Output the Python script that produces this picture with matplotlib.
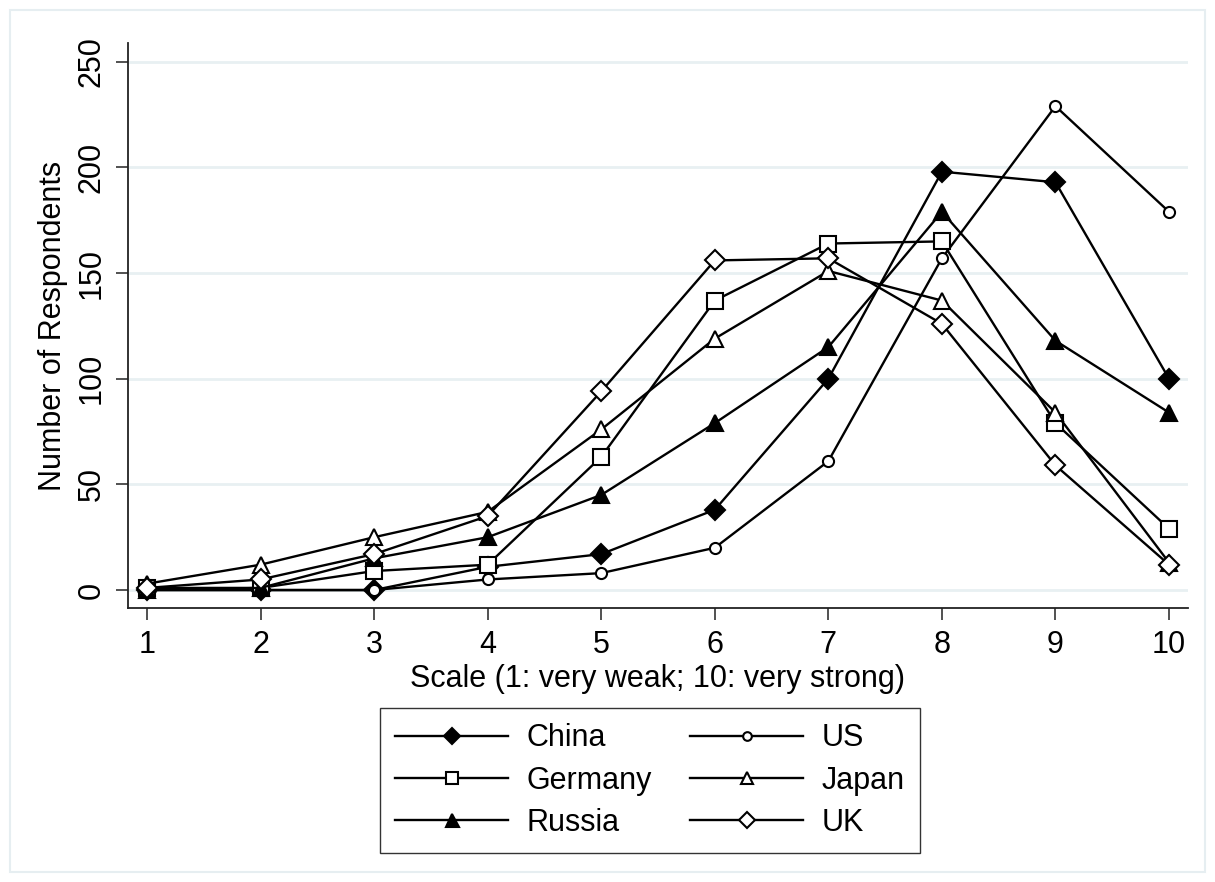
import matplotlib
matplotlib.use("Agg")
import matplotlib.pyplot as plt
from matplotlib.patches import Rectangle

plt.rcParams['font.family'] = ['Liberation Sans', 'DejaVu Sans']

scale = [1, 2, 3, 4, 5, 6, 7, 8, 9, 10]
china = [0, 0, 0, 11, 17, 38, 100, 198, 193, 100]
us = [0, 0, 0, 5, 8, 20, 61, 157, 229, 179]
germany = [1, 1, 9, 12, 63, 137, 164, 165, 79, 29]
japan = [3, 12, 25, 37, 76, 119, 151, 137, 84, 13]
russia = [0, 1, 15, 25, 45, 79, 115, 179, 118, 84]
uk = [1, 5, 17, 35, 94, 156, 157, 126, 59, 12]

yticks = [0, 50, 100, 150, 200, 250]

fig = plt.figure(figsize=(12.15, 8.82), dpi=100)
fig.patches.append(Rectangle((10/1215, 10/882), 1 - 20/1215, 1 - 20/882,
                             transform=fig.transFigure, fill=False,
                             edgecolor='#E6EEF1', linewidth=1.5))
ax = fig.add_axes([128/1215, 1 - 608/882, (1188 - 128)/1215, (608 - 43)/882])

fs = 22
lw = 1.7
series = {
    "China": (china, dict(marker='D', ms=10, mfc='black')),
    "US": (us, dict(marker='o', ms=8, mfc='white')),
    "Germany": (germany, dict(marker='s', ms=11, mfc='white')),
    "Japan": (japan, dict(marker='^', ms=11, mfc='white')),
    "Russia": (russia, dict(marker='^', ms=12, mfc='black')),
    "UK": (uk, dict(marker='D', ms=10, mfc='white')),
}
handles = {}
for name, (vals, st) in series.items():
    h, = ax.plot(scale, vals, color='black', lw=lw, mec='black', mew=1.5,
                 label=name, zorder=3, **st)
    handles[name] = h

ax.set_xlim(0.833, 10.167)
ax.set_ylim(-8.5, 258.9)
ax.set_xticks(scale)
ax.set_yticks(yticks)
ax.set_yticklabels([str(v) for v in yticks], rotation=90, va='center')
ax.grid(axis='y', color='#E8F0F2', lw=2, zorder=0)
ax.set_axisbelow(True)
for s in ['top', 'right']:
    ax.spines[s].set_visible(False)
for s in ['left', 'bottom']:
    ax.spines[s].set_linewidth(1.3)
    ax.spines[s].set_color('#222222')
ax.tick_params(axis='both', direction='out', length=8.5, width=1.2,
               labelsize=fs, color='#333333', pad=7)
ax.set_xlabel("Scale (1: very weak; 10: very strong)", fontsize=fs, labelpad=3)
ax.set_ylabel("Number of Respondents", fontsize=fs, labelpad=6)

order = ["China", "Germany", "Russia", "US", "Japan", "UK"]
leg = fig.legend([handles[n] for n in order], order,
                 loc='upper center', bbox_to_anchor=(650/1215, 1 - 708/882),
                 ncol=2, fontsize=fs, frameon=True, fancybox=False,
                 edgecolor='black', handlelength=3.7, columnspacing=1.25,
                 labelspacing=0.4, handletextpad=0.6, borderpad=0.5,
                 borderaxespad=0, markerscale=0.78)
leg.get_frame().set_linewidth(1.0)

fig.savefig("out.png", dpi=100)
